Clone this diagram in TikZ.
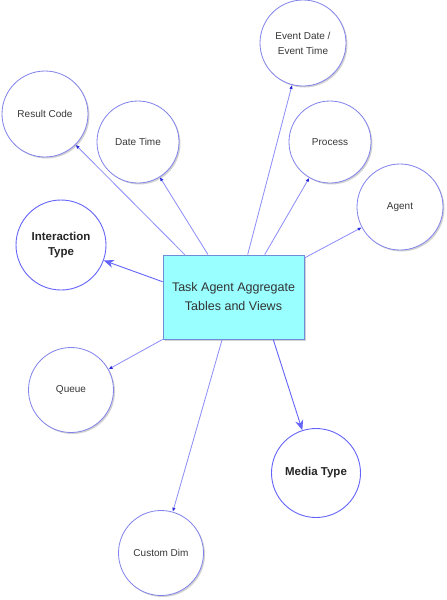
\documentclass[tikz,border=0pt]{standalone}
\usepackage{fontspec}
\setmainfont{Liberation Sans}
\usetikzlibrary{arrows.meta,shadows,calc}
\definecolor{linec}{RGB}{140,140,250}
\definecolor{circc}{RGB}{130,130,235}
\definecolor{boldc}{RGB}{100,100,250}
\definecolor{boxfill}{RGB}{153,255,255}
\definecolor{boxdraw}{RGB}{110,140,215}
\definecolor{tipc}{RGB}{40,40,220}
\definecolor{txt}{RGB}{55,55,55}
\tikzset{
  dim/.style={circle,draw=circc,line width=0.8pt,fill=white,minimum size=#1,inner sep=0pt,align=center,
    font=\fontsize{10}{15}\selectfont,text=txt,
    drop shadow={shadow xshift=1.5pt,shadow yshift=-1.5pt,opacity=0.35,fill=gray}},
  bolddim/.style={circle,draw=boldc,line width=0.9pt,fill=white,minimum size=#1,inner sep=0pt,align=center,
    font=\fontsize{11.5}{15}\selectfont\bfseries,text=black!85},
  mainbox/.style={rectangle,draw=boxdraw,line width=0.8pt,fill=boxfill,minimum width=141pt,minimum height=84pt,
    align=center,font=\fontsize{12.5}{19}\selectfont,text=black!80,
    drop shadow={shadow xshift=1.5pt,shadow yshift=-1.5pt,opacity=0.35,fill=gray}},
  conn/.style={draw=linec,line width=0.8pt,-{Latex[length=4pt,width=3.5pt,color=tipc]}},
  bigconn/.style={draw=boldc,line width=0.9pt,-{Stealth[length=10pt,width=8pt,inset=3pt]}}
}
\begin{document}
\begin{tikzpicture}[x=1pt,y=-1pt]
\useasboundingbox (0,0) rectangle (447,600);
\fill[white] (0,0) rectangle (447,600);
\node[mainbox] (box) at (233.5,297) {Task Agent Aggregate\\Tables and Views};
\node[dim=86pt] (rc) at (45,114) {Result Code};
\node[dim=82pt] (dt) at (138,142) {Date Time};
\node[dim=86pt] (ed) at (303,43) {Event Date /\\Event Time};
\node[dim=82pt] (pr) at (330,142) {Process};
\node[dim=86pt] (ag) at (400,207) {Agent};
\node[bolddim=90pt] (it) at (61,245) {Interaction\\Type};
\node[dim=85pt] (qu) at (71,390) {Queue};
\node[bolddim=89pt] (mt) at (316,473) {Media Type};
\node[dim=85pt] (cd) at (161,553) {Custom Dim};
\coordinate (s1) at ($(box.north west)!0.156!(box.north east)$);
\coordinate (s2) at ($(box.north west)!0.32!(box.north east)$);
\coordinate (s3) at ($(box.north west)!0.60!(box.north east)$);
\coordinate (s4) at ($(box.north west)!0.72!(box.north east)$);
\coordinate (s5) at ($(box.north east)!0.04!(box.south east)$);
\coordinate (s6) at ($(box.north west)!0.32!(box.south west)$);
\coordinate (s7) at (box.south west);
\coordinate (s8) at ($(box.south west)!0.42!(box.south east)$);
\coordinate (s9) at ($(box.south west)!0.78!(box.south east)$);
\draw[conn] (s1) -- (rc);
\draw[conn] (s2) -- (dt);
\draw[conn] (s3) -- (ed);
\draw[conn] (s4) -- (pr);
\draw[conn] (s5) -- (ag);
\draw[bigconn] (s6) -- (it);
\draw[conn] (s7) -- (qu);
\draw[conn] (s8) -- (cd);
\draw[bigconn] (s9) -- (mt);
\end{tikzpicture}
\end{document}
